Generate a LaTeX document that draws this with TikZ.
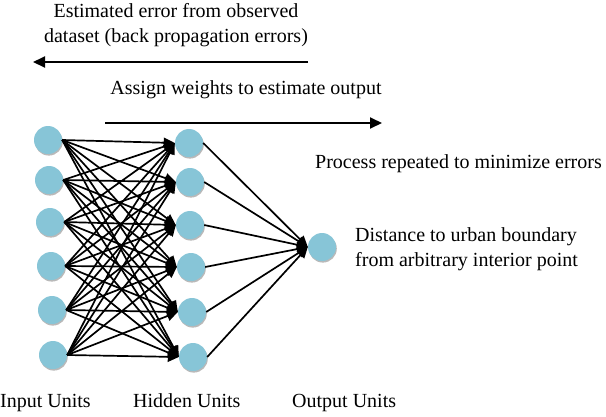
\documentclass[tikz,border=0pt]{standalone}
\usepackage{fontspec}
\setmainfont{Liberation Serif}
\usetikzlibrary{arrows.meta,shadows}
\definecolor{unitblue}{RGB}{135,197,215}
\begin{document}
\begin{tikzpicture}[x=1pt,y=-1pt,
  unit/.style={circle,minimum size=28pt,inner sep=0pt,fill=unitblue,
    drop shadow={shadow xshift=0.8pt,shadow yshift=-1.6pt,fill=gray!55,opacity=1}},
  link/.style={line width=1.7pt,-{Triangle[length=11pt,width=10pt]}},
  bigarrow/.style={line width=1.9pt,-{Triangle[length=12pt,width=11pt]}},
  lbl/.style={font=\fontsize{20}{25}\selectfont,inner sep=0pt,align=center}]
\useasboundingbox (0,0) rectangle (606,416);
% input units
\node[unit] (i1) at (48,140) {};
\node[unit] (i2) at (49,180) {};
\node[unit] (i3) at (50,222) {};
\node[unit] (i4) at (51,266) {};
\node[unit] (i5) at (52,310) {};
\node[unit] (i6) at (53,355) {};
% hidden units
\node[unit] (h1) at (189,143) {};
\node[unit] (h2) at (190,182) {};
\node[unit] (h3) at (190,225) {};
\node[unit] (h4) at (191,267) {};
\node[unit] (h5) at (192,312) {};
\node[unit] (h6) at (193,357) {};
% output unit
\node[unit] (o) at (322,247) {};
% connections
\foreach \a in {1,...,6}{
  \foreach \b in {1,...,6}{
    \draw[link] (i\a.east) -- (h\b.west);
  }
  \draw[link] (h\a.east) -- (o.west);
}
% texts
\node[lbl] (t1) at (176,25) {Estimated error from observed\\dataset (back propagation errors)};
\coordinate (bl) at (308,62);
\coordinate (br) at (33,62);
\draw[bigarrow] (bl) -- (br);
\node[lbl] (t2) at (246,90) {Assign weights to estimate output};
\coordinate (fl) at (105,123);
\coordinate (fr) at (382,123);
\draw[bigarrow] (fl) -- (fr);
\node[lbl,anchor=west] (t3) at (315,164) {Process repeated to minimize errors};
\node[lbl,anchor=west,align=left] (t4) at (355,249) {Distance to urban boundary\\from arbitrary interior point};
\node[lbl,anchor=base west] (l1) at (0,407) {Input Units};
\node[lbl,anchor=base west] (l2) at (133,407) {Hidden Units};
\node[lbl,anchor=base west] (l3) at (292,407) {Output Units};
\end{tikzpicture}
\end{document}
